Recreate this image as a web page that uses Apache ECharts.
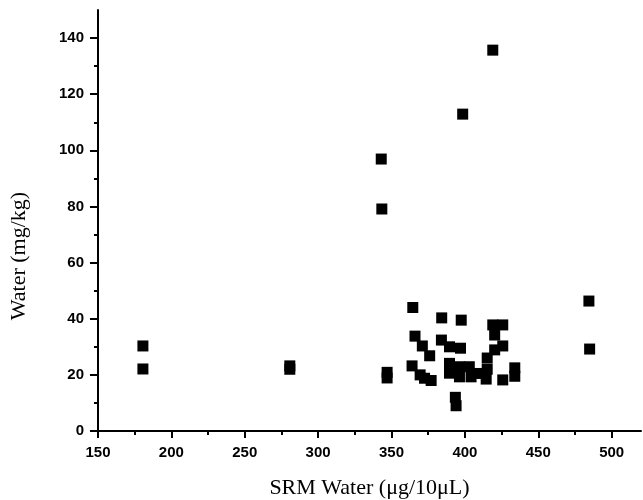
<!DOCTYPE html>
<html>
<head>
<meta charset="utf-8">
<script src="https://cdn.jsdelivr.net/npm/echarts@6.0.0/dist/echarts.min.js"></script>
<style>
  html, body { margin: 0; padding: 0; background: #fff; }
  #chart { width: 643px; height: 500px; }
</style>
</head>
<body>
<div id="chart"></div>
<script>
const srmWater = [
  180.6, 180.6, 280.7, 280.7, 343, 343.4, 398.5, 419, 484.5, 485,
  347, 347, 364.5, 384.2, 397.5, 366, 371, 376, 364, 369.5,
  372.5, 377, 384, 389.5, 397, 389.5, 389.5, 396.3, 396.3, 403,
  404.2, 408, 393.5, 394, 419, 425.8, 420.3, 425.8, 420.3, 415.2,
  415.2, 414.5, 425.8, 434, 434
];
const water = [
  30.3, 22.1, 22.0, 23.2, 96.9, 79.1, 112.9, 135.7, 46.3, 29.2,
  20.9, 18.9, 44.0, 40.3, 39.5, 33.8, 30.3, 26.8, 23.2, 20.0,
  18.8, 18.0, 32.4, 30.0, 29.5, 24.1, 20.6, 22.9, 19.3, 22.9,
  19.3, 20.5, 12.0, 9.0, 37.8, 37.8, 34.2, 30.3, 28.9, 26.0,
  22.0, 18.5, 18.2, 22.5, 19.5
];

const xTickValues = [150, 200, 250, 300, 350, 400, 450, 500];
const xMinorValues = [175, 225, 275, 325, 375, 425, 475];
const yTickValues = [0, 20, 40, 60, 80, 100, 120, 140];
const yMinorValues = [10, 30, 50, 70, 90, 110, 130];

const points = srmWater.map((x, i) => [x, water[i]]);

const chart = echarts.init(document.getElementById('chart'));

const tickFont = {
  color: '#000',
  fontFamily: 'Liberation Sans',
  fontWeight: 'bold',
  fontSize: 15,
  margin: 14
};

chart.setOption({
  animation: false,
  backgroundColor: '#fff',
  grid: { left: 98, right: 2, top: 10, bottom: 69, outerBoundsMode: 'none' },
  xAxis: [
    {
      type: 'value', min: 150, max: 520, interval: 50, position: 'bottom',
      axisLine: { onZero: false, lineStyle: { color: '#000', width: 2 } },
      axisTick: { customValues: xTickValues, length: 7, lineStyle: { color: '#000', width: 2 } },
      axisLabel: Object.assign({ customValues: xTickValues }, tickFont),
      splitLine: { show: false },
      name: 'SRM Water (\u03bcg/10\u03bcL)',
      nameLocation: 'middle',
      nameGap: 46,
      nameTextStyle: { fontFamily: 'Liberation Serif', fontSize: 22, color: '#000' }
    },
    {
      type: 'value', min: 150, max: 520, interval: 50, position: 'bottom',
      axisLine: { show: false },
      axisTick: { customValues: xMinorValues, length: 4, lineStyle: { color: '#000', width: 2 } },
      axisLabel: { show: false },
      splitLine: { show: false }
    }
  ],
  yAxis: [
    {
      type: 'value', min: 0, max: 150, interval: 20, position: 'left',
      axisLine: { show: true, onZero: false, lineStyle: { color: '#000', width: 2 } },
      axisTick: { show: true, customValues: yTickValues, length: 8, lineStyle: { color: '#000', width: 2 } },
      axisLabel: Object.assign({ customValues: yTickValues }, tickFont),
      splitLine: { show: false }
    },
    {
      type: 'value', min: 0, max: 150, interval: 20, position: 'left',
      axisLine: { show: false },
      axisTick: { show: true, customValues: yMinorValues, length: 4, lineStyle: { color: '#000', width: 2 } },
      axisLabel: { show: false },
      splitLine: { show: false }
    }
  ],
  graphic: [
    {
      type: 'text',
      x: 19, y: 256,
      rotation: Math.PI / 2,
      style: {
        text: 'Water (mg/kg)',
        font: '22px "Liberation Serif"',
        fill: '#000',
        align: 'center',
        verticalAlign: 'middle'
      }
    }
  ],
  series: [
    {
      type: 'scatter',
      xAxisIndex: 0,
      yAxisIndex: 0,
      symbol: 'rect',
      symbolSize: 11,
      itemStyle: { color: '#000', opacity: 1 },
      data: points
    }
  ]
});
</script>
</body>
</html>
